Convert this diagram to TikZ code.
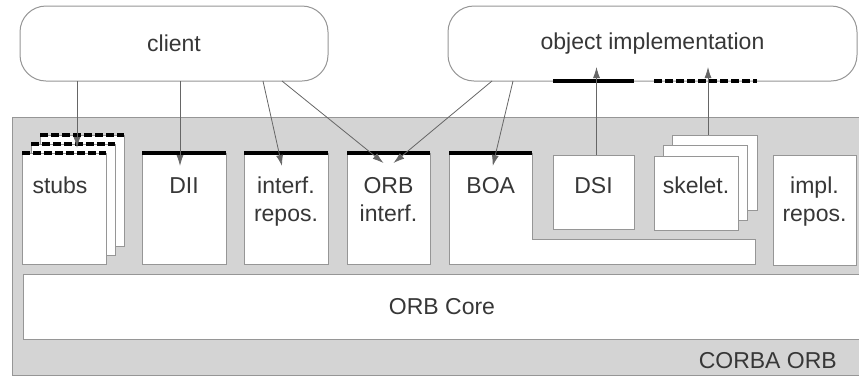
\documentclass[tikz,border=0pt]{standalone}
\usepackage{fontspec}
\setmainfont{Liberation Sans}
\usetikzlibrary{positioning,calc,arrows.meta}
\definecolor{orbgray}{RGB}{212,212,212}
\definecolor{edgegray}{RGB}{150,150,150}
\definecolor{inkgray}{RGB}{55,55,55}

\begin{document}
\begin{tikzpicture}[x=1pt, y=-1pt, >={Latex[length=11pt,width=7pt]}]
        % Stili
        \tikzstyle{box} = [draw=edgegray, fill=white, line width=1pt, rectangle, inner sep=0pt, outer sep=0pt, anchor=north west]
        \tikzstyle{app} = [box, rounded corners=26pt, font=\fontsize{23}{28}\selectfont, text=inkgray]
        \tikzstyle{lbl} = [inner sep=0pt, align=center, font=\fontsize{23}{28}\selectfont, text=inkgray]
        \tikzstyle{bar} = [line width=4pt]
        \tikzstyle{dbar} = [line width=4pt, dash pattern=on 8pt off 3pt]
        \tikzstyle{link} = [->, draw=black!60, line width=0.8pt]

        \useasboundingbox (0,0) rectangle (859,376);

        % Riquadri
        \node [box, fill=orbgray, minimum width=852pt, minimum height=258pt] (orb) at (12,117) {};
        \node [app, minimum width=308pt, minimum height=75pt] (client) at (20,6) {client};
        \node [app, minimum width=409pt, minimum height=75pt] (objimpl) at (448,6) {object implementation};

        \node [box, minimum width=84pt, minimum height=111pt] (stubsC) at (40,135) {};
        \node [box, minimum width=84pt, minimum height=111pt] (stubsB) at (31,144) {};
        \node [box, minimum width=84pt, minimum height=111pt] (stubsA) at (22,153) {};
        \node [box, minimum width=84pt, minimum height=111pt] (dii) at (142,153) {};
        \node [box, minimum width=84pt, minimum height=111pt] (ifrepos) at (244,153) {};
        \node [box, minimum width=83pt, minimum height=111pt] (orbif) at (347,153) {};

        \filldraw [draw=edgegray, fill=white, line width=1pt] (449,153) -- (532,153) -- (532,239) -- (755,239) -- (755,264) -- (449,264) -- cycle;
        \node [anchor=north west, inner sep=0pt, minimum width=83pt, minimum height=111pt] (boa) at (449,153) {};

        \node [box, minimum width=81pt, minimum height=74pt] (dsi) at (553,155) {};
        \node [box, minimum width=85pt, minimum height=75pt] (skelC) at (672,135) {};
        \node [box, minimum width=84pt, minimum height=75pt] (skelB) at (663,145) {};
        \node [box, minimum width=84pt, minimum height=74pt] (skelA) at (654,156) {};
        \node [box, minimum width=83pt, minimum height=110pt] (implrepos) at (773,155) {};
        \node [box, font=\fontsize{23}{28}\selectfont, text=inkgray, minimum width=838pt, minimum height=65pt] (orbcore) at (23,274) {ORB Core};

        % Testi
        \node [lbl, below=24pt of stubsA.north, xshift=-4pt] {stubs};
        \node [lbl, below=24pt of dii.north] {DII};
        \node [lbl, below=24pt of ifrepos.north] {interf.\\repos.};
        \node [lbl, below=24pt of orbif.north] {ORB\\interf.};
        \node [lbl, below=24pt of boa.north] {BOA};
        \node [lbl, below=22pt of dsi.north] {DSI};
        \node [lbl, below=21pt of skelA.north] {skelet.};
        \node [lbl, below=22pt of implrepos.north] {impl.\\repos.};
        \node [lbl, above left=6pt and 27pt of orb.south east] {CORBA ORB};

        % Interfacce
        \draw [dbar] (stubsC.north west) -- (stubsC.north east);
        \draw [dbar] (stubsB.north west) -- (stubsB.north east);
        \draw [dbar] (stubsA.north west) -- (stubsA.north east);
        \draw [bar] (dii.north west) -- (dii.north east);
        \draw [bar] (ifrepos.north west) -- (ifrepos.north east);
        \draw [bar] (orbif.north west) -- (orbif.north east);
        \draw [bar] (boa.north west) -- (boa.north east);
        \draw [bar] (dsi.west |- objimpl.south) -- (dsi.east |- objimpl.south);
        \draw [dbar] (skelA.west |- objimpl.south) -- (skelC.east |- objimpl.south);

        % Frecce
        \coordinate (tStubs) at ([xshift=4pt,yshift=-4pt]stubsB.north);
        \coordinate (tDii) at ([xshift=-4pt,yshift=-13pt]dii.north);
        \coordinate (tRepos) at ([xshift=-4pt,yshift=-13pt]ifrepos.north);
        \coordinate (tOrbL) at ([xshift=-5pt,yshift=-10pt]orbif.north);
        \coordinate (tOrbR) at ([xshift=5pt,yshift=-10pt]orbif.north);
        \coordinate (tBoa) at ([xshift=2pt,yshift=-13pt]boa.north);
        \coordinate (tDsi) at ($(objimpl.south -| dsi.north)+(3,-14)$);
        \coordinate (tSkel) at ($(objimpl.south -| skelB.north)+(3,-14)$);

        \draw [link] (client.south -| tStubs) -- (tStubs);
        \draw [link] (client.south -| tDii) -- (tDii);
        \draw [link] ($(client.south -| tRepos)+(-19,0)$) -- (tRepos);
        \draw [link] ($(client.south east)+(-46,0)$) -- (tOrbL);
        \draw [link] ($(objimpl.south west)+(44,0)$) -- (tOrbR);
        \draw [link] ($(objimpl.south west)+(65,0)$) -- (tBoa);
        \draw [link] (dsi.north -| tDsi) -- (tDsi);
        \draw [link] (skelC.north -| tSkel) -- (tSkel);

    \end{tikzpicture}
\end{document}
